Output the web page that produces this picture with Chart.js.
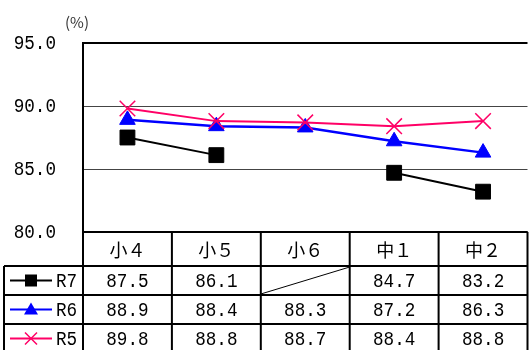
<!DOCTYPE html>
<html>
<head>
<meta charset="utf-8">
<script src="https://cdn.jsdelivr.net/npm/chart.js@4.4.1/dist/chart.umd.min.js"></script>
<style>
  body { margin: 0; overflow: hidden; background: #fff; }
  #wrap { position: relative; width: 540px; height: 350px; }
</style>
</head>
<body>
<div id="wrap"><canvas id="canvas"></canvas></div>
<script>
// 学年ごとの割合 (%)
var grades = ['小４', '小５', '小６', '中１', '中２'];
var seriesNames = ['R7', 'R6', 'R5'];
var r7 = [87.5, 86.1, null, 84.7, 83.2];
var r6 = [88.9, 88.4, 88.3, 87.2, 86.3];
var r5 = [89.8, 88.8, 88.7, 88.4, 88.8];
var yTicks = [80, 85, 90, 95];

var colors = ['#000000', '#0000ff', '#ff0066'];
var markers = ['rect', 'triangle', 'crossRot'];
var NUM_FONT = '21px "Liberation Mono", monospace';
var JP_FONT = '18px "Noto Sans CJK JP", sans-serif';

// 細長い数字 (横に縮めて描く)
function narrowText(ctx, text, x, y, align) {
    var k = 0.84;
    ctx.save();
    ctx.font = NUM_FONT;
    ctx.textAlign = align;
    ctx.textBaseline = 'middle';
    ctx.translate(x, y);
    ctx.scale(k, 1);
    ctx.fillText(text, 0, 0);
    ctx.restore();
}

// 凡例用の小さいマーカー
function drawMarker(ctx, style, x, y, color) {
    ctx.save();
    ctx.fillStyle = color;
    ctx.strokeStyle = color;
    ctx.beginPath();
    if (style == 'rect') {
        ctx.fillRect(x - 6, y - 6, 12, 12);
    } else if (style == 'triangle') {
        ctx.moveTo(x, y - 7);
        ctx.lineTo(x + 7, y + 5);
        ctx.lineTo(x - 7, y + 5);
        ctx.closePath();
        ctx.fill();
    } else {
        ctx.lineWidth = 1.5;
        ctx.moveTo(x - 6, y - 6); ctx.lineTo(x + 6, y + 6);
        ctx.moveTo(x + 6, y - 6); ctx.lineTo(x - 6, y + 6);
        ctx.stroke();
    }
    ctx.restore();
}

// 縦軸の目盛り文字とグラフ下のデータテーブル
var dataTable = {
    id: 'dataTable',
    afterDraw: function (chart) {
        var ctx = chart.ctx;
        var area = chart.chartArea;
        var xs = chart.scales.x;
        var ys = chart.scales.y;
        var half = (xs.getPixelForValue(1) - xs.getPixelForValue(0)) / 2;
        var top = area.bottom;
        var rows = [top, top + 34, top + 63, top + 92, top + 121];
        var left = 4;
        var right = xs.getPixelForValue(grades.length - 1) + half;

        ctx.save();
        ctx.fillStyle = '#000';
        ys.ticks.forEach(function (t) {
            narrowText(ctx, t.value.toFixed(1), 56, ys.getPixelForValue(t.value), 'right');
        });

        ctx.strokeStyle = '#000';
        ctx.lineWidth = 2;
        ctx.beginPath();
        // 横線
        ctx.moveTo(area.left, rows[0]); ctx.lineTo(right, rows[0]);
        for (var r = 1; r < 4; r++) {
            ctx.moveTo(left, rows[r]); ctx.lineTo(right, rows[r]);
        }
        // 縦線
        ctx.moveTo(left, rows[1]); ctx.lineTo(left, 350);
        ctx.moveTo(area.left, area.top); ctx.lineTo(area.left, 350);
        for (var i = 0; i < grades.length; i++) {
            var bx = xs.getPixelForValue(i) + half;
            ctx.moveTo(bx, rows[0]); ctx.lineTo(bx, 350);
        }
        ctx.stroke();

        ctx.textAlign = 'center';
        ctx.textBaseline = 'middle';
        ctx.font = JP_FONT;
        for (var i = 0; i < grades.length; i++) {
            ctx.fillText(grades[i], xs.getPixelForValue(i), (rows[0] + rows[1]) / 2 + 1);
        }

        var sets = chart.data.datasets;
        for (var s = 0; s < sets.length; s++) {
            var y0 = rows[s + 1], y1 = rows[s + 2];
            var cy = (y0 + y1) / 2;
            // 凡例
            ctx.strokeStyle = colors[s];
            ctx.lineWidth = 2;
            ctx.beginPath();
            ctx.moveTo(10, cy); ctx.lineTo(52, cy);
            ctx.stroke();
            drawMarker(ctx, markers[s], 31, cy, colors[s]);
            ctx.fillStyle = '#000';
            narrowText(ctx, sets[s].label, 56, cy + 1, 'left');
            // 値
            for (var i = 0; i < grades.length; i++) {
                var v = sets[s].data[i];
                var cx = xs.getPixelForValue(i);
                if (v == null) {
                    ctx.strokeStyle = '#000';
                    ctx.lineWidth = 1;
                    ctx.beginPath();
                    ctx.moveTo(cx - half, y1 - 1);
                    ctx.lineTo(cx + half, y0 + 1);
                    ctx.stroke();
                } else {
                    narrowText(ctx, v.toFixed(1), cx, cy + 1, 'center');
                }
            }
        }

        // 単位
        ctx.font = '15px "Noto Sans CJK JP", sans-serif';
        ctx.fillStyle = '#333';
        ctx.textAlign = 'left';
        ctx.textBaseline = 'middle';
        ctx.fillText('(%)', 65, 22);
        ctx.restore();
    }
};

var config = {
    type: 'line',
    data: {
        labels: grades,
        datasets: [r7, r6, r5].map(function (d, i) {
            return {
                label: seriesNames[i],
                data: d,
                order: 3 - i,
                borderColor: colors[i],
                backgroundColor: colors[i],
                borderWidth: i == 1 ? 2.5 : 2,
                pointStyle: markers[i],
                pointRadius: [10.5, 9, 11][i],
                pointBorderWidth: i == 2 ? 1.5 : 1,
                spanGaps: false,
                tension: 0
            };
        })
    },
    options: {
        responsive: true,
        maintainAspectRatio: false,
        animation: false,
        layout: { padding: { top: 43, bottom: 118, right: 7, left: 0 } },
        plugins: { legend: { display: false }, tooltip: { enabled: false } },
        scales: {
            x: {
                type: 'category',
                offset: true,
                display: false
            },
            y: {
                min: 80,
                max: 95,
                afterFit: function (s) { s.width = 83; },
                afterBuildTicks: function (s) {
                    s.ticks = yTicks.map(function (v) { return { value: v }; });
                },
                border: { display: true, color: '#000', width: 2 },
                grid: {
                    drawTicks: false,
                    color: function (c) {
                        return (c.tick.value == 95 || c.tick.value == 80) ? '#000' : '#444';
                    },
                    lineWidth: function (c) {
                        return (c.tick.value == 95 || c.tick.value == 80) ? 2 : 1;
                    }
                },
                ticks: { display: false }
            }
        }
    },
    plugins: [dataTable]
};

var ctx = document.getElementById('canvas').getContext('2d');
new Chart(ctx, config);
</script>
</body>
</html>
